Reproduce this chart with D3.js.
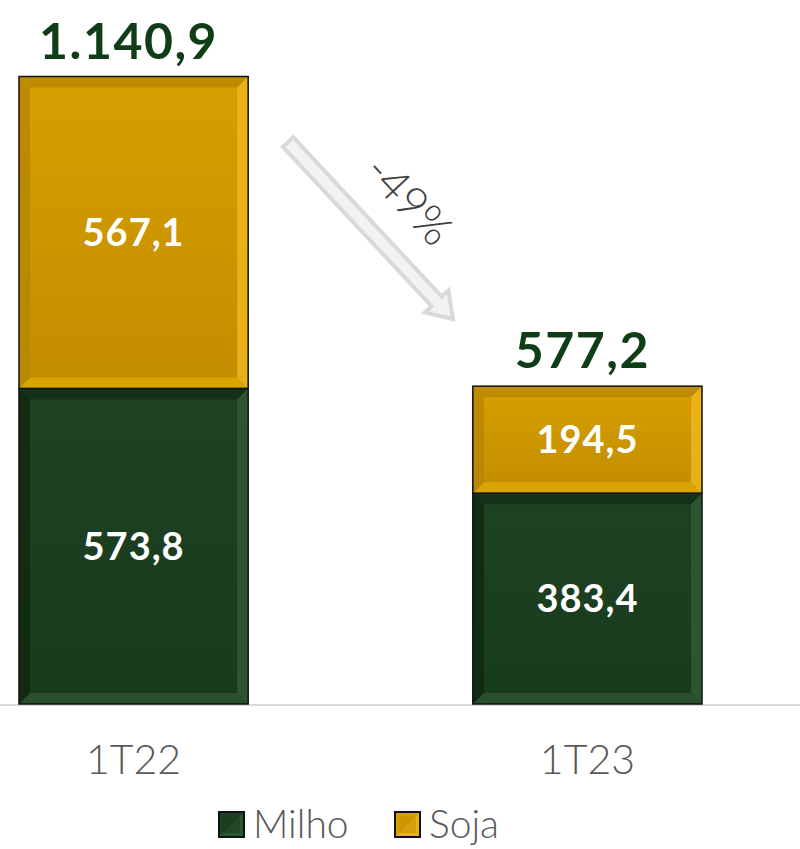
<!DOCTYPE html>
<html>
<head>
<meta charset="utf-8">
<script src="https://cdn.jsdelivr.net/npm/d3@7"></script>
<style>
  html, body { margin: 0; padding: 0; background: #fff; }
  svg { display: block; }
</style>
</head>
<body>
<div id="chart"></div>
<script>
// data
const categories = ["1T22", "1T23"];
const milho = [573.8, 383.4];
const soja = [567.1, 194.5];
const totals = [1140.9, 577.2];
const seriesNames = ["Milho", "Soja"];
const changeLabel = "-49%";

const width = 800, height = 849;
const font = "Lato, 'Open Sans', sans-serif";

const fmt = d3.formatLocale({ decimal: ",", thousands: ".", grouping: [3], currency: ["", ""] }).format(",.1f");

const svg = d3.select("#chart").append("svg")
    .attr("width", width)
    .attr("height", height);

// scales
let x = d3.scaleBand()
    .domain(categories)
    .range([19, 702])
    .paddingInner(0.495)
    .paddingOuter(0);

let y = d3.scaleLinear()
    .domain([0, 1200])
    .range([704, 44]);

// colours for each series: face, top, bottom, left, right bevel
const palette = {
    Milho: { face: ["#1f4224", "#183a1d"], top: "#132e17", bottom: "#2b5431", left: "#10280f", right: "#2f5a35" },
    Soja:  { face: ["#d6a000", "#c28c00"], top: "#b98800", bottom: "#dca800", left: "#b88600", right: "#eeb61c" }
};

let defs = svg.append("defs");
seriesNames.forEach(name => {
    let g = defs.append("linearGradient")
        .attr("id", "face-" + name)
        .attr("x1", 0).attr("y1", 0).attr("x2", 0).attr("y2", 1);
    g.append("stop").attr("offset", "0%").attr("stop-color", palette[name].face[0]);
    g.append("stop").attr("offset", "100%").attr("stop-color", palette[name].face[1]);
});

// baseline
svg.append("line")
    .attr("x1", 0).attr("x2", width)
    .attr("y1", y(0) + 1).attr("y2", y(0) + 1)
    .attr("stroke", "#d9d9d9")
    .attr("stroke-width", 2);

// stacked segments
let segments = [];
categories.forEach((c, i) => {
    segments.push({ cat: c, name: "Milho", y0: 0, y1: milho[i], value: milho[i] });
    segments.push({ cat: c, name: "Soja", y0: milho[i], y1: milho[i] + soja[i], value: soja[i] });
});

function drawBevel(g, x0, y0, w, h, b, pal, gradId) {
    g.append("rect")
        .attr("x", x0).attr("y", y0).attr("width", w).attr("height", h)
        .attr("fill", `url(#${gradId})`);
    const pts = {
        top:    [[x0, y0], [x0 + w, y0], [x0 + w - b, y0 + b], [x0 + b, y0 + b]],
        bottom: [[x0, y0 + h], [x0 + w, y0 + h], [x0 + w - b, y0 + h - b], [x0 + b, y0 + h - b]],
        left:   [[x0, y0], [x0 + b, y0 + b], [x0 + b, y0 + h - b], [x0, y0 + h]],
        right:  [[x0 + w, y0], [x0 + w - b, y0 + b], [x0 + w - b, y0 + h - b], [x0 + w, y0 + h]]
    };
    Object.keys(pts).forEach(k => {
        g.append("polygon")
            .attr("points", pts[k].map(p => p.join(",")).join(" "))
            .attr("fill", pal[k])
            .attr("opacity", 0.85);
    });
    g.append("rect")
        .attr("x", x0).attr("y", y0).attr("width", w).attr("height", h)
        .attr("fill", "none")
        .attr("stroke", "#111")
        .attr("stroke-width", 1.5);
}

let barGroup = svg.append("g");
segments.forEach(d => {
    let top = y(d.y1), bot = y(d.y0);
    drawBevel(barGroup, x(d.cat), top, x.bandwidth(), bot - top, 11, palette[d.name], "face-" + d.name);
});

// segment value labels
svg.append("g").selectAll("text")
    .data(segments)
    .enter()
    .append("text")
    .attr("x", d => x(d.cat) + x.bandwidth() / 2)
    .attr("y", d => (y(d.y0) + y(d.y1)) / 2)
    .attr("dy", "0.36em")
    .style("text-anchor", "middle")
    .style("font-family", font)
    .style("font-weight", 700)
    .style("font-size", "38px")
    .style("letter-spacing", "1px")
    .attr("fill", "#fff")
    .text(d => fmt(d.value));

// totals above bars
svg.append("g").selectAll("text")
    .data(categories)
    .enter()
    .append("text")
    .attr("x", c => x(c) + x.bandwidth() / 2 - 5)
    .attr("y", (c, i) => y(milho[i] + soja[i]) - 18)
    .style("text-anchor", "middle")
    .style("font-family", font)
    .style("font-weight", 700)
    .style("font-size", "50px")
    .style("letter-spacing", "1.5px")
    .attr("fill", "#0f3d17")
    .text((c, i) => fmt(totals[i]));

// category labels
svg.append("g").selectAll("text")
    .data(categories)
    .enter()
    .append("text")
    .attr("x", c => x(c) + x.bandwidth() / 2)
    .attr("y", 774)
    .style("text-anchor", "middle")
    .style("font-family", font)
    .style("font-weight", 300)
    .style("font-size", "41px")
    .attr("fill", "#595959")
    .text(c => c);

// change arrow between bars
let a0 = [288, 142], a1 = [453, 319];
let ang = Math.atan2(a1[1] - a0[1], a1[0] - a0[0]);
let len = Math.hypot(a1[0] - a0[0], a1[1] - a0[1]);
let sw = 7, hw = 16, hl = 24;
let arrowPts = [
    [0, -sw], [len - hl, -sw], [len - hl, -hw], [len, 0],
    [len - hl, hw], [len - hl, sw], [0, sw]
];
svg.append("polygon")
    .attr("transform", `translate(${a0[0]},${a0[1]}) rotate(${ang * 180 / Math.PI})`)
    .attr("points", arrowPts.map(p => p.join(",")).join(" "))
    .attr("fill", "#f2f2f2")
    .attr("stroke", "#d9d9d9")
    .attr("stroke-width", 4)
    .attr("stroke-linejoin", "miter");

svg.append("text")
    .attr("transform", `translate(409,200) rotate(${ang * 180 / Math.PI})`)
    .attr("dy", "0.35em")
    .style("text-anchor", "middle")
    .style("font-family", font)
    .style("font-weight", 300)
    .style("font-size", "45px")
    .attr("fill", "#404040")
    .text(changeLabel);

// legend
let legend = svg.append("g");
let legendX = [219, 395];
seriesNames.forEach((name, i) => {
    let lg = legend.append("g").attr("transform", `translate(${legendX[i]},812)`);
    let pal = palette[name];
    lg.append("rect").attr("width", 25).attr("height", 25).attr("fill", pal.face[0]);
    lg.append("polygon").attr("points", "0,25 25,0 25,25").attr("fill", pal.right).attr("opacity", 0.8);
    lg.append("rect").attr("x", 4).attr("y", 4).attr("width", 17).attr("height", 17).attr("fill", pal.face[1]).attr("opacity", 0.5);
    lg.append("rect").attr("width", 25).attr("height", 25).attr("fill", "none").attr("stroke", "#111").attr("stroke-width", 2);
    lg.append("text")
        .attr("x", 34)
        .attr("y", 26)
        .style("font-family", font)
        .style("font-weight", 300)
        .style("font-size", "39px")
        .attr("fill", "#595959")
        .text(name);
});
</script>
</body>
</html>
